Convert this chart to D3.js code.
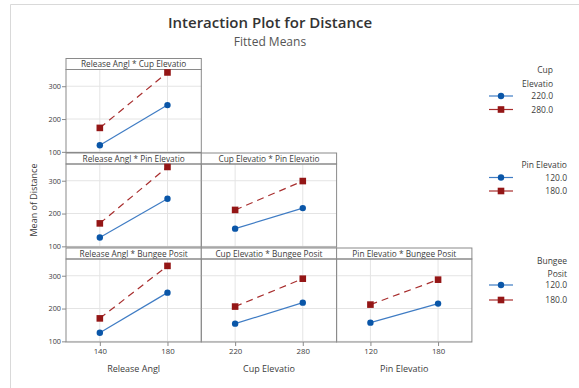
<!DOCTYPE html>
<html><head><meta charset="utf-8">
<script src="https://cdn.jsdelivr.net/npm/d3@7"></script>
<style>body{margin:0;background:#fff}svg{display:block}text{font-family:"Open Sans","Noto Sans",sans-serif}</style>
</head><body><svg id="c" width="579" height="388"></svg>
<script>
// Factor levels
const releaseAngl = [140, 180];
const cupElev = [220, 280];
const pinElev = [120, 180];
const bungeePos = [120, 180];
const factorNames = ["Release Angl", "Cup Elevatio", "Pin Elevatio", "Bungee Posit"];
const yTicks = [100, 200, 300];
const legendLevels = [["220.0", "280.0"], ["120.0", "180.0"], ["120.0", "180.0"]];
const legendTitles = [["Cup", "Elevatio"], ["Pin Elevatio"], ["Bungee", "Posit"]];

// Fitted means (series = low level / high level of the trace factor)
const relCup_low = [120, 242.5], relCup_high = [173, 342];
const relPin_low = [127, 245], relPin_high = [170, 342];
const cupPin_low = [154, 216.5], cupPin_high = [211, 299];
const relBun_low = [126, 248.5], relBun_high = [170, 330];
const cupBun_low = [154, 218], cupBun_high = [206, 291];
const pinBun_low = [157, 215], pinBun_high = [212, 288];

const xLevels = [releaseAngl, cupElev, pinElev];
const panels = [
  {row:0, col:0, title:"Release Angl * Cup Elevatio", low:relCup_low, high:relCup_high},
  {row:1, col:0, title:"Release Angl * Pin Elevatio", low:relPin_low, high:relPin_high},
  {row:1, col:1, title:"Cup Elevatio * Pin Elevatio", low:cupPin_low, high:cupPin_high},
  {row:2, col:0, title:"Release Angl * Bungee Posit", low:relBun_low, high:relBun_high},
  {row:2, col:1, title:"Cup Elevatio * Bungee Posit", low:cupBun_low, high:cupBun_high},
  {row:2, col:2, title:"Pin Elevatio * Bungee Posit", low:pinBun_low, high:pinBun_high}
];

const svg = d3.select("#c");
const blue = "#0a56a8", blueLine = "#3f7cc4", red = "#941616", redLine = "#a82e2e";
const textCol = "#3c3c3c", frameCol = "#8a8a8a", gridCol = "#e4e4e4";

// outer frame
svg.append("path").attr("d","M10.5,388 V4.5 H579").attr("fill","none").attr("stroke","#d9d9d9");

svg.append("text").attr("x",270).attr("y",28).attr("text-anchor","middle")
  .attr("font-size",15).attr("font-weight",600).attr("fill","#333").text("Interaction Plot for Distance");
svg.append("text").attr("x",270).attr("y",46).attr("text-anchor","middle")
  .attr("font-size",12).attr("fill","#555").text("Fitted Means");

const colX0 = 66, colW = 135.3, rowTops = [58.5, 153, 248], stripH = 11, rowH = 94;
const yDomain = [98, 351];

panels.forEach(p => {
  const x0 = colX0 + p.col*colW, x1 = x0 + colW;
  const top = rowTops[p.row], sb = top + stripH, bot = top + rowH;
  const lv = xLevels[p.col], span = lv[1]-lv[0];
  const x = d3.scaleLinear().domain([lv[0]-span/2, lv[1]+span/2]).range([x0, x1]);
  const y = d3.scaleLinear().domain(yDomain).range([bot, sb]);
  const g = svg.append("g");
  g.selectAll(".hg").data(yTicks).join("line")
    .attr("x1",x0).attr("x2",x1).attr("y1",d=>y(d)).attr("y2",d=>y(d)).attr("stroke",gridCol);
  g.selectAll(".vg").data(lv).join("line")
    .attr("x1",d=>x(d)).attr("x2",d=>x(d)).attr("y1",sb).attr("y2",bot).attr("stroke",gridCol);
  g.append("rect").attr("x",x0).attr("y",top).attr("width",colW).attr("height",stripH)
    .attr("fill","#fff").attr("stroke",frameCol);
  g.append("text").attr("x",(x0+x1)/2).attr("y",top+8.6).attr("text-anchor","middle")
    .attr("font-size",8.3).attr("fill",textCol).text(p.title);
  g.append("rect").attr("x",x0).attr("y",sb).attr("width",colW).attr("height",rowH-stripH)
    .attr("fill","none").attr("stroke",frameCol);
  const line = d3.line().x((d,i)=>x(lv[i])).y(d=>y(d));
  g.append("path").datum(p.low).attr("d",line).attr("fill","none").attr("stroke",blueLine).attr("stroke-width",1.2);
  g.append("path").datum(p.high).attr("d",line).attr("fill","none").attr("stroke",redLine)
    .attr("stroke-width",1.2).attr("stroke-dasharray","7,5");
  g.selectAll(".pl").data(p.low).join("circle").attr("cx",(d,i)=>x(lv[i])).attr("cy",d=>y(d))
    .attr("r",3.2).attr("fill",blue);
  g.selectAll(".ph").data(p.high).join("rect").attr("x",(d,i)=>x(lv[i])-3.3).attr("y",d=>y(d)-3.3)
    .attr("width",6.6).attr("height",6.6).attr("fill",red);
  if (p.col === 0) {
    const ax = svg.append("g").attr("transform",`translate(${x0},0)`)
      .call(d3.axisLeft(y).tickValues(yTicks).tickSize(4).tickPadding(1));
    ax.select(".domain").remove();
    ax.selectAll("line").attr("stroke",frameCol);
    ax.selectAll("text").attr("font-size",7.3).attr("fill",textCol).attr("font-family",'"Open Sans",sans-serif');
  }
  if (p.row === 2) {
    const ax = svg.append("g").attr("transform",`translate(0,${bot})`)
      .call(d3.axisBottom(x).tickValues(lv).tickSize(4).tickPadding(2));
    ax.select(".domain").remove();
    ax.selectAll("line").attr("stroke",frameCol);
    ax.selectAll("text").attr("font-size",7.8).attr("fill",textCol).attr("font-family",'"Open Sans",sans-serif');
    svg.append("text").attr("x",(x0+x1)/2).attr("y",372).attr("text-anchor","middle")
      .attr("font-size",9).attr("fill",textCol).text(factorNames[p.col]);
  }
});

svg.append("text").attr("transform","translate(37,200) rotate(-90)").attr("text-anchor","middle")
  .attr("font-size",9).attr("fill",textCol).text("Mean of Distance");

const legs = [
  {titleY:[73, 87], itemY:[96, 109.5], right:553},
  {titleY:[168], itemY:[177.5, 191], right:567},
  {titleY:[264, 277], itemY:[285, 300], right:567}
];
legs.forEach((L,k) => {
  legendTitles[k].forEach((t,i) => svg.append("text").attr("x",L.right).attr("y",L.titleY[i])
    .attr("text-anchor","end").attr("font-size",8.5).attr("fill",textCol).text(t));
  legendLevels[k].forEach((t,i) => {
    const yy = L.itemY[i];
    svg.append("line").attr("x1",489).attr("x2",513).attr("y1",yy).attr("y2",yy)
      .attr("stroke", i===0 ? blueLine : redLine).attr("stroke-width",1.2);
    if (i===0) svg.append("circle").attr("cx",501).attr("cy",yy).attr("r",3.2).attr("fill",blue);
    else svg.append("rect").attr("x",497.7).attr("y",yy-3.3).attr("width",6.6).attr("height",6.6).attr("fill",red);
    svg.append("text").attr("x",L.right).attr("y",yy+3).attr("text-anchor","end")
      .attr("font-size",8.5).attr("fill",textCol).text(t);
  });
});
</script></body></html>
